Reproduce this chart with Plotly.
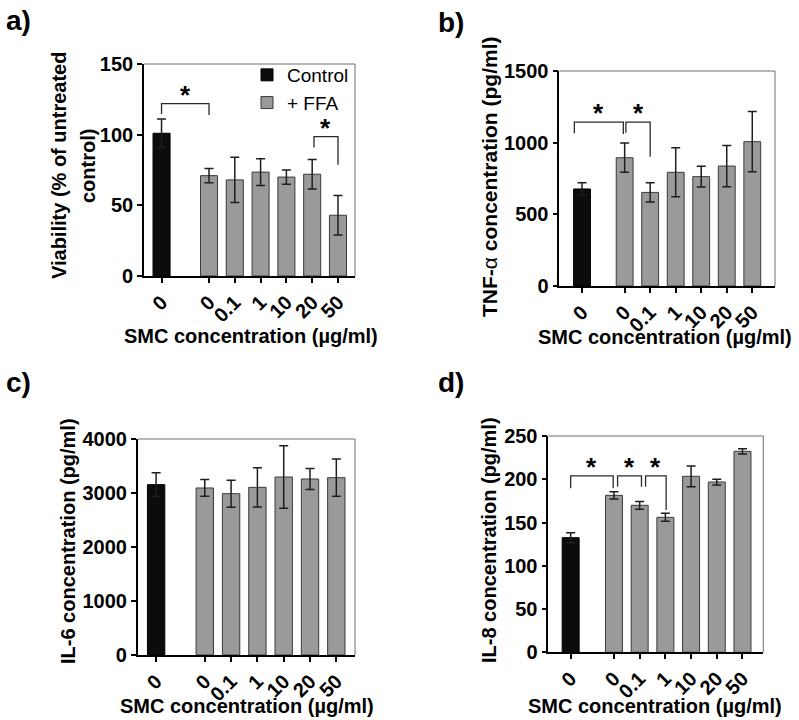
import plotly.graph_objects as go

# ---------------- data ----------------
ffa_labels = ["0", "0.1", "1", "10", "20", "50"]
control_label = "0"

via_ctrl, via_ctrl_err = 101.0, 10.0
via_ffa = [71.0, 68.0, 73.5, 70.0, 72.0, 43.0]
via_ffa_err = [5.0, 16.0, 9.5, 5.0, 10.5, 14.0]

tnf_ctrl, tnf_ctrl_err = 677.0, 44.0
tnf_ffa = [895.0, 653.0, 793.0, 763.0, 837.0, 1007.0]
tnf_ffa_err = [102.0, 67.0, 171.0, 72.0, 144.0, 210.0]

il6_ctrl, il6_ctrl_err = 3155.0, 222.0
il6_ffa = [3093.0, 2988.0, 3105.0, 3296.0, 3259.0, 3284.0]
il6_ffa_err = [155.0, 250.0, 364.0, 578.0, 195.0, 346.0]

il8_ctrl, il8_ctrl_err = 132.5, 5.8
il8_ffa = [181.4, 169.9, 156.0, 203.4, 196.8, 232.3]
il8_ffa_err = [4.3, 4.5, 4.6, 12.0, 3.3, 3.0]

# significance brackets: (from bar, to bar, bracket level, left drop end, right drop end)
# bars indexed: "c" = control, integers = FFA bars (second item = small offset)
via_sig = [(("c", 0.0), (0, 0.0), 122, 114.6, 114), ((4, 0.07), (5, 0.0), 98.6, 91, 78.8)]
tnf_sig = [(("c", -0.30), (0, -0.05), 1144, 1065, 1060), ((0, 0.05), (1, 0.0), 1144, 1070, 902)]
il6_sig = []
il8_sig = [(("c", 0.0), (0, -0.03), 203.8, 189.6, 189.6), ((0, 0.14), (1, 0.07), 203.8, 191.4, 191.4),
           ((1, 0.23), (2, 0.03), 203.8, 191.4, 164.5)]

W, H = 799, 720
FONT = "Liberation Sans, Arial, Helvetica, sans-serif"
GRAY = "#9a9a9a"
BLACK = "#0c0c0c"

# panel layout (pixel boxes) and x placement parameters
panels = [
    dict(ctrl=via_ctrl, ctrl_err=via_ctrl_err, ffa=via_ffa, ffa_err=via_ffa_err, sig=via_sig,
         box=(144, 355, 64, 276), yrange=150, dtick=50, gap=1.84, lpad=0.68, rpad=0.66,
         ytitle=["Viability (% of untreated", "control)"], ytx=[59, 88], yty=166, ysize=20,
         xtx=250.5, xty=336, label="a)", lx=4, ly=20),
    dict(ctrl=tnf_ctrl, ctrl_err=tnf_ctrl_err, ffa=tnf_ffa, ffa_err=tnf_ffa_err, sig=tnf_sig,
         box=(559.3, 775, 71, 286), yrange=1500, dtick=500, gap=1.67, lpad=0.89, rpad=0.89,
         ytitle=["TNF-<span style='font-weight:normal'>α</span> concentration (pg/ml)"], ytx=[489],
         yty=177, ysize=21,
         xtx=665, xty=337, label="b)", lx=436, ly=22),
    dict(ctrl=il6_ctrl, ctrl_err=il6_ctrl_err, ffa=il6_ffa, ffa_err=il6_ffa_err, sig=il6_sig,
         box=(137.7, 355, 439, 655), yrange=4000, dtick=1000, gap=1.85, lpad=0.70, rpad=0.71,
         ytitle=["IL-6 concentration (pg/ml)"], ytx=[68], yty=541, ysize=20,
         xtx=247, xty=706, label="c)", lx=4, ly=382),
    dict(ctrl=il8_ctrl, ctrl_err=il8_ctrl_err, ffa=il8_ffa, ffa_err=il8_ffa_err, sig=il8_sig,
         box=(548.3, 763.3, 436, 652.3), yrange=250, dtick=50, gap=1.685, lpad=0.87, rpad=0.81,
         ytitle=["IL-8 concentration (pg/ml)"], ytx=[489], yty=540, ysize=20,
         xtx=655, xty=706, label="d)", lx=436, ly=382),
]

fig = go.Figure()
shapes, annotations = [], []


def px(x):
    return x / W


def py(y):
    return 1 - y / H


for i, p in enumerate(panels):
    n = "" if i == 0 else str(i + 1)
    xa, ya = "x" + n, "y" + n
    gap = p["gap"]
    ffa_x = [gap + k for k in range(len(p["ffa"]))]

    err_style = dict(type="data", visible=True, color="#1e1e1e", thickness=1.5, width=4.5)
    fig.add_trace(go.Bar(
        x=[0], y=[p["ctrl"]], width=0.66, name="Control", showlegend=(i == 0),
        marker=dict(color=BLACK, line=dict(color="#000000", width=1)),
        error_y=dict(array=[p["ctrl_err"]], **err_style), xaxis=xa, yaxis=ya))
    fig.add_trace(go.Bar(
        x=ffa_x, y=p["ffa"], width=0.66, name="+ FFA", showlegend=(i == 0),
        marker=dict(color=GRAY, line=dict(color="#3a3a3a", width=1)),
        error_y=dict(array=p["ffa_err"], **err_style), xaxis=xa, yaxis=ya))

    x0, x1, yt, yb = p["box"]
    axis_common = dict(showgrid=False, zeroline=False, showline=True, linecolor="black", linewidth=1.6,
                       ticks="outside", ticklen=5, tickwidth=1.5, tickcolor="black",
                       automargin=False, fixedrange=True)
    fig.layout["xaxis" + n] = dict(domain=[px(x0), px(x1)], anchor=ya,
                                   range=[-p["lpad"], gap + len(p["ffa"]) - 1 + p["rpad"]],
                                   tickmode="array", tickvals=[0] + ffa_x,
                                   ticktext=[control_label] + ffa_labels, tickangle=-45,
                                   tickfont=dict(family=FONT, size=20, color="black", weight="bold"),
                                   **axis_common)
    fig.layout["yaxis" + n] = dict(domain=[py(yb), py(yt)], anchor=xa, range=[0, p["yrange"]],
                                   tick0=0, dtick=p["dtick"],
                                   tickfont=dict(family=FONT, size=20, color="black", weight="bold"),
                                   **axis_common)

    # thin frame on top and right
    xd, yd = xa + " domain", ya + " domain"
    shapes.append(dict(type="line", xref=xd, yref=yd, x0=0, x1=1, y0=1, y1=1,
                       line=dict(color="#6e6e6e", width=1)))
    shapes.append(dict(type="line", xref=xd, yref=yd, x0=1, x1=1, y0=0, y1=1,
                       line=dict(color="#6e6e6e", width=1)))

    # significance brackets and stars
    def bx(ref):
        b, off = ref
        return (0 if b == "c" else gap + b) + off

    for (a_ref, b_ref, lvl, ld, rd) in p["sig"]:
        xa0, xa1 = bx(a_ref), bx(b_ref)
        shapes.append(dict(type="path", xref=xa, yref=ya,
                           path=f"M {xa0},{ld} L {xa0},{lvl} L {xa1},{lvl} L {xa1},{rd}",
                           line=dict(color="#2a2a2a", width=1.3)))
        annotations.append(dict(xref=xa, yref=ya, x=(xa0 + xa1) / 2, y=lvl, yshift=9,
                                text="*", showarrow=False, xanchor="center", yanchor="middle",
                                font=dict(family=FONT, size=26, color="black", weight="bold")))

    # axis titles
    for t, tx in zip(p["ytitle"], p["ytx"]):
        annotations.append(dict(xref="paper", yref="paper", x=px(tx), y=py(p["yty"]), text=t,
                                textangle=-90, showarrow=False, xanchor="center", yanchor="middle",
                                font=dict(family=FONT, size=p["ysize"], color="black", weight="bold")))
    annotations.append(dict(xref="paper", yref="paper", x=px(p["xtx"]), y=py(p["xty"]),
                            text="SMC concentration (µg/ml)", showarrow=False,
                            xanchor="center", yanchor="middle",
                            font=dict(family=FONT, size=20, color="black", weight="bold")))
    # panel label
    annotations.append(dict(xref="paper", yref="paper", x=px(p["lx"]), y=py(p["ly"]),
                            text=p["label"], showarrow=False, xanchor="left", yanchor="middle",
                            font=dict(family=FONT, size=28, color="black", weight="bold")))

fig.update_layout(
    width=W, height=H, autosize=False,
    margin=dict(l=0, r=0, t=0, b=0, autoexpand=False),
    paper_bgcolor="white", plot_bgcolor="white",
    barmode="overlay",
    showlegend=True,
    legend=dict(x=px(247), y=py(56), xanchor="left", yanchor="top",
                font=dict(family=FONT, size=19, color="black"),
                bgcolor="rgba(0,0,0,0)", itemwidth=30, tracegroupgap=0, traceorder="normal"),
    shapes=shapes, annotations=annotations,
)

fig.write_html("out.html", config={"displayModeBar": False},
               post_script="document.body.style.margin='0px';document.body.style.overflow='hidden';")
